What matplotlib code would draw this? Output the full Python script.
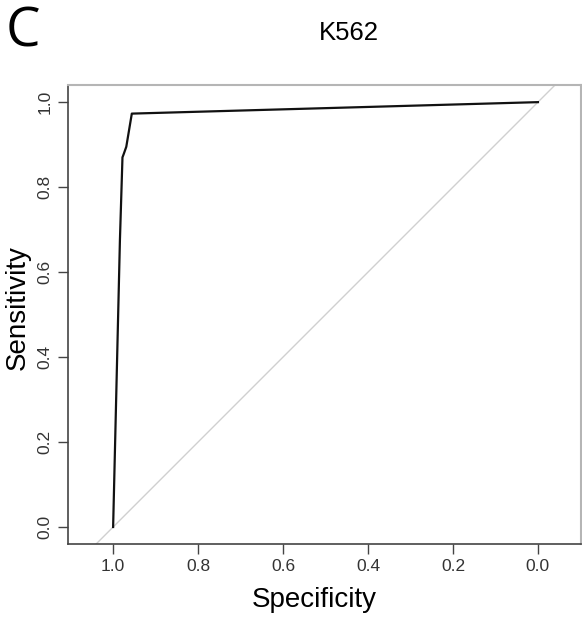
import matplotlib.pyplot as plt

# ROC curve points for K562
specificity = [1.0, 0.984, 0.978, 0.975, 0.969, 0.956, 0.0]
sensitivity = [0.0, 0.675, 0.870, 0.878, 0.895, 0.973, 1.0]
xticks = [1.0, 0.8, 0.6, 0.4, 0.2, 0.0]
yticks = [0.0, 0.2, 0.4, 0.6, 0.8, 1.0]

plt.rcParams['font.family'] = ['Liberation Sans', 'DejaVu Sans']

fig = plt.figure(figsize=(5.82, 6.17), dpi=100)
ax = fig.add_axes([0.117, 0.119, 0.881, 0.743])

# chance diagonal
ax.plot([1.2, -0.2], [-0.2, 1.2], color='#d0d0d0', lw=1.0, zorder=1)
ax.plot(specificity, sensitivity, color='#111111', lw=1.6, zorder=2)

ax.set_xlim(1.106, -0.101)
ax.set_ylim(-0.039, 1.04)
ax.set_xticks(xticks)
ax.set_xticklabels([f'{v:.1f}' for v in xticks], fontsize=12.5, color='#333333')
ax.set_yticks(yticks)
ax.set_yticklabels([f'{v:.1f}' for v in yticks], fontsize=12.5, color='#333333',
                   rotation=90, va='center')
ax.tick_params(direction='out', length=7, width=1, color='#444444', pad=4)

for side in ['left', 'bottom']:
    ax.spines[side].set_color('#444444')
    ax.spines[side].set_linewidth(1.2)
for side in ['top', 'right']:
    ax.spines[side].set_color('#b5b5b5')
    ax.spines[side].set_linewidth(1.5)

# axis labels placed like the R output (slightly off centre)
fig.text(0.540, 0.016, 'Specificity', fontsize=20, ha='center', va='baseline')
fig.text(0.031, 0.501, 'Sensitivity', fontsize=20, ha='center', va='center',
         rotation=90)

fig.text(0.599, 0.946, 'K562', fontsize=18.5, ha='center', va='center')
fig.text(0.040, 0.948, 'C', fontsize=39.5, ha='center', va='center',
         family=['Open Sans', 'DejaVu Sans'])

fig.savefig('out.png', dpi=100)
